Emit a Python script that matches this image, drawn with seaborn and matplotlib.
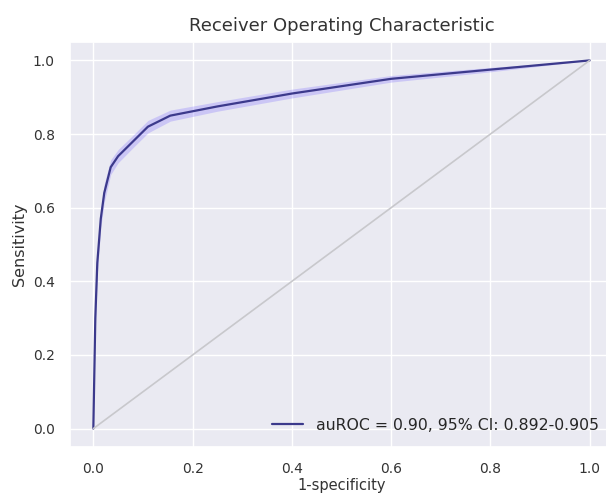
import numpy as np
import pandas as pd
import seaborn as sns
import matplotlib
matplotlib.use("Agg")
import matplotlib.pyplot as plt

fpr = [0.0, 0.004, 0.008, 0.015, 0.022, 0.035, 0.05, 0.08, 0.11, 0.155, 0.25, 0.4, 0.6, 0.8, 1.0]
tpr = [0.0, 0.30, 0.45, 0.57, 0.64, 0.71, 0.74, 0.78, 0.82, 0.85, 0.875, 0.91, 0.95, 0.975, 1.0]
tpr_low = [0.0, 0.27, 0.42, 0.545, 0.615, 0.69, 0.722, 0.763, 0.803, 0.835, 0.862, 0.898, 0.941, 0.969, 1.0]
tpr_high = [0.0, 0.33, 0.48, 0.595, 0.665, 0.73, 0.758, 0.797, 0.837, 0.865, 0.888, 0.922, 0.959, 0.981, 1.0]
diag = [0.0, 1.0]
label = "auROC = 0.90, 95% CI: 0.892-0.905"

sns.set_theme(style="darkgrid")
plt.rcParams['font.family'] = ['DejaVu Sans']

fig = plt.figure(figsize=(6.06, 4.93), dpi=100)
ax = fig.add_axes([70/606, 1 - 447/493, 543/606, (447 - 42)/493])

df = pd.DataFrame({"fpr": fpr, "tpr": tpr})
ax.fill_between(fpr, tpr_low, tpr_high, color="#7b6cff", alpha=0.28, linewidth=0)
sns.lineplot(data=df, x="fpr", y="tpr", ax=ax, color="#3c3a8c", linewidth=1.6, label=label, sort=False)
sns.lineplot(x=diag, y=diag, ax=ax, color="#c8c8cc", linewidth=1.2)

ax.set_xlim(-0.047, 1.047)
ax.set_ylim(-0.05, 1.05)
ax.set_xticks([0.0, 0.2, 0.4, 0.6, 0.8, 1.0])
ax.set_yticks([0.0, 0.2, 0.4, 0.6, 0.8, 1.0])
ax.tick_params(labelsize=10, colors="#333333", pad=5)
ax.set_xlabel("1-specificity", fontsize=10.5, color="#333333", labelpad=1)
ax.set_ylabel("Sensitivity", fontsize=11.5, color="#333333", labelpad=4)
ax.set_title("Receiver Operating Characteristic", fontsize=13, color="#333333", pad=8)
leg = ax.legend(loc="lower right", fontsize=11.3, frameon=False)

fig.savefig("out.png", dpi=100)
